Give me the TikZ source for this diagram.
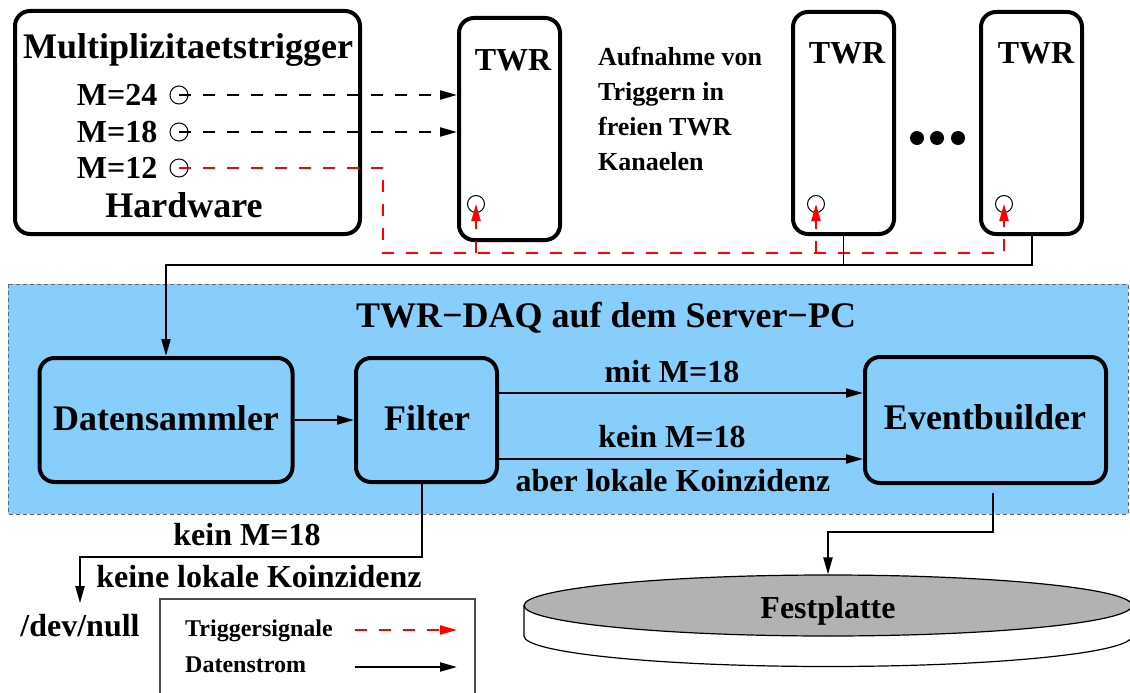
\documentclass[tikz,border=0pt]{standalone}
\usepackage{fontspec}
\setmainfont{Liberation Serif}
\usetikzlibrary{
	positioning,      %relative Lage
	arrows.meta,      %Pfeilspitzen
	shapes.geometric  %Ellipse
}
\definecolor{daqblue}{RGB}{135,206,250}
\tikzset{
	every picture/.style={
		x=1pt,y=-1pt,
		>={Triangle[length=17pt,width=9pt]}
}}
\tikzset{
	box/.style={draw,line width=4pt,rounded corners=15pt,inner sep=0pt},
	daqbox/.style={box,fill=daqblue},
	txtL/.style={inner sep=0pt,font=\fontsize{36}{40}\selectfont\bfseries},
	txtM/.style={inner sep=0pt,font=\fontsize{32}{36}\selectfont\bfseries},
	txtS/.style={inner sep=0pt,font=\fontsize{26}{35}\selectfont\bfseries},
	txtXS/.style={inner sep=0pt,font=\fontsize{24}{28}\selectfont\bfseries},
	port/.style={draw,circle,line width=1pt,minimum size=18pt,inner sep=0pt},
	trig/.style={red,line width=2pt,dash pattern=on 12pt off 12pt,->},
	trigblack/.style={black,line width=2pt,dash pattern=on 12pt off 12pt,->},
	data/.style={line width=2pt,->}
}

\begin{document}
\begin{tikzpicture}
\useasboundingbox (0,0) rectangle (1130,693);
% Server-PC
\draw[fill=daqblue,draw=black!60,line width=1pt,dash pattern=on 4pt off 3pt] (8,284) rectangle (1128,514);
\node[txtL] (daqT) at (606,318) {TWR−DAQ auf dem Server−PC};

% Hardware
\node[box,minimum width=345pt,minimum height=223pt] (mult) at (187.5,122.5) {};
\node[txtL] (multT) at (188,50) {Multiplizitaetstrigger};
\node[port] (m24) at (179,95) {};
\node[port] (m18) at (179,132) {};
\node[port] (m12) at (179,168) {};
\node[txtM,left=12pt of m24] (m24T) {M=24};
\node[txtM,left=12pt of m18] (m18T) {M=18};
\node[txtM,left=12pt of m12] (m12T) {M=12};
\node[txtL] (hwT) at (184,205) {Hardware};

% TWR
\node[box,minimum width=101pt,minimum height=222pt] (twr1) at (509.5,129) {};
\node[box,minimum width=101pt,minimum height=222pt] (twr2) at (843.5,123) {};
\node[box,minimum width=101pt,minimum height=222pt] (twr3) at (1031.5,123) {};
\node[txtM] (twr1T) at (513,60) {TWR};
\node[txtM] (twr2T) at (847,53.5) {TWR};
\node[txtM] (twr3T) at (1036,53.5) {TWR};
\node[port,minimum size=17pt] (c1) at (476,204) {};
\node[port,minimum size=17pt] (c2) at (816,204) {};
\node[port,minimum size=17pt] (c3) at (1004,204) {};
\foreach \x in {917,937,958} \fill (\x,138) circle (7pt);
\node[txtS,align=left,anchor=north west] (aufT) at (598,47) {Aufnahme von\\Triggern in\\freien TWR\\Kanaelen};

% DAQ
\node[daqbox,minimum width=253pt,minimum height=124pt] (daten) at (166,420) {};
\node[daqbox,minimum width=141pt,minimum height=124pt] (filter) at (426.5,420) {};
\node[daqbox,minimum width=241pt,minimum height=126pt] (event) at (985.5,420) {};
\node[txtL] (datenT) at (166,418.5) {Datensammler};
\node[txtL] (filterT) at (427,418.5) {Filter};
\node[txtL] (eventT) at (985,417.5) {Eventbuilder};
\node[txtM] (mitT) at (672,371.5) {mit M=18};
\node[txtM] (keinT) at (672,437) {kein M=18};
\node[txtM] (aberT) at (673,480.5) {aber lokale Koinzidenz};

% Ausgaenge
\draw[line width=1.2pt] (524,605.5) -- (524,636) arc[start angle=180,end angle=360,x radius=304pt,y radius=30.5pt] -- (1132,605.5);
\node[ellipse,draw,fill=black!30,line width=1.2pt,minimum width=608pt,minimum height=61pt,inner sep=0pt] (disk) at (828,605.5) {};
\node[txtM] (diskT) at (828,611) {Festplatte};
\node[txtM,outer sep=11pt] (devnull) at (80,625.5) {/dev/null};
\node[txtM] (kein2T) at (247,535) {kein M=18};
\node[txtM] (keineT) at (259,577) {keine lokale Koinzidenz};

% Trigger
\coordinate (rbend) at (383,253);
\draw[trigblack] (m24.center) -- (m24.center -| twr1.west);
\draw[trigblack] (m18.center) -- (m18.center -| twr1.west);
\draw[trig] (m12.center) -| (rbend) -| (c3.center);
\draw[trig] (c1.center |- rbend) -- (c1.center);
\draw[trig] (c2.center |- rbend) -- (c2.center);

% Datenstrom
\coordinate (bus) at (166,265);
\draw[data] (twr3.south) |- (bus) -- (daten.north);
\draw[line width=1.5pt] (twr2.south) -- (twr2.south |- bus);
\draw[data] (daten) -- (filter);
\coordinate (mitA) at (497,393);
\coordinate (keinA) at (497,459);
\draw[data] (mitA) -- (mitA -| event.west);
\draw[data] (keinA) -- (keinA -| event.west);
\coordinate (nullk) at (80,557);
\draw[data] ([xshift=-4.5pt]filter.south) |- (nullk) -- (devnull.north);
\coordinate (diskk) at (828,532);
\draw[data] ([xshift=7.5pt,yshift=-8pt]event.south) |- (diskk) -- (disk.north);

% Legende
\draw[draw=black!70,line width=1.5pt] (160,599) rectangle (475,705);
\node[txtXS,anchor=west] (lgTrig) at (185,630.5) {Triggersignale};
\node[txtXS,anchor=west] (lgData) at (185,665) {Datenstrom};
\coordinate (lgTa) at (355,630);
\coordinate (lgTb) at (457,630);
\coordinate (lgDa) at (355,667);
\coordinate (lgDb) at (457,667);
\draw[trig] (lgTa) -- (lgTb);
\draw[data] (lgDa) -- (lgDb);
\end{tikzpicture}
\end{document}
